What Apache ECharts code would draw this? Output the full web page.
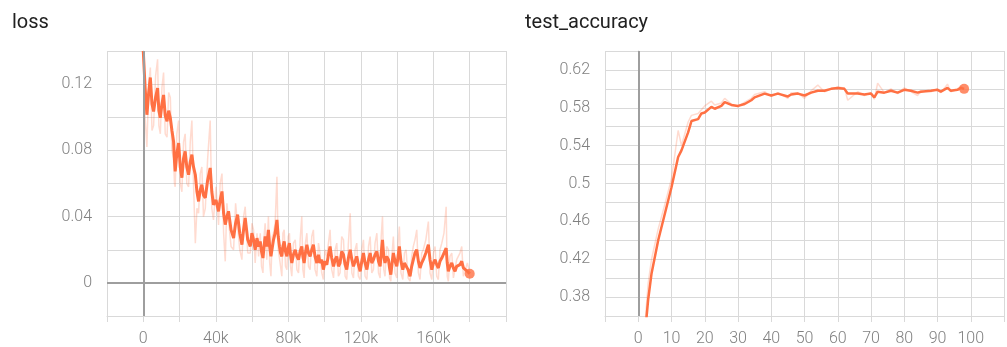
<!DOCTYPE html>
<html>
<head>
<meta charset="utf-8">
<script src="https://cdn.jsdelivr.net/npm/echarts/dist/echarts.min.js"></script>
<style>
  html, body { margin: 0; padding: 0; background: #fff; }
  #chart { width: 1007px; height: 347px; }
</style>
</head>
<body>
<div id="chart"></div>
<script>
// loss: steps in thousands
const lossSteps = [
  0, 1, 2, 3, 3.9, 4.8, 5.7, 6.8, 7.9, 8.6,
  9.4, 10.3, 11.2, 12.1, 13.1, 14, 14.9, 15.8, 16.7, 17.2,
  17.6, 18.5, 19.5, 20.4, 21.3, 22.2, 23.1, 24, 25, 25.9,
  26.8, 27.7, 28.7, 29.6, 30.5, 31.4, 32.3, 33.2, 34.2, 35.5,
  36.9, 37.8, 38.7, 40.1, 41.5, 42.4, 43.4, 44.3, 45.2, 46.1,
  47, 48.4, 49.8, 50.9, 52, 53.2, 54.4, 55.3, 56.2, 57.6,
  59, 59.9, 60.8, 61.7, 62.7, 63.6, 64.5, 65.2, 66, 66.6,
  67.2, 68.1, 69, 69.7, 70.4, 71.1, 71.8, 72.7, 73.7, 74.4,
  75.1, 75.7, 76.4, 77, 77.7, 78.4, 79.2, 79.9, 80.6, 81.2,
  81.9, 82.8, 83.8, 84.7, 85.6, 86.5, 87.4, 88, 88.7, 89.4,
  90.2, 91.1, 92, 92.9, 93.8, 94.7, 95.7, 96.6, 97.5, 98.4,
  99.3, 100.2, 101.2, 102.1, 103, 103.9, 104.9, 105.8, 106.7, 107.6,
  108.5, 109.4, 110.4, 111.3, 112.2, 113.1, 114.1, 115, 115.9, 116.8,
  117.7, 118.6, 119.6, 120.5, 121.4, 122.3, 123.3, 124.2, 125.1, 126,
  126.9, 127.8, 128.8, 129.7, 130.6, 131.2, 131.9, 132.6, 133.3, 134.2,
  135.2, 135.8, 136.5, 137.2, 137.9, 138.8, 139.8, 140.5, 141.2, 142.1,
  143.1, 144, 144.9, 146, 147.1, 148, 148.9, 149.8, 150.8, 151.7,
  152.6, 153.5, 154.4, 155.8, 157.2, 158.1, 159.1, 160, 160.9, 161.8,
  162.7, 163.6, 164.6, 165.8, 167, 167.6, 168.2, 169.1, 170.1, 171,
  171.9, 172.8, 173.7, 174.6, 175.6, 176.5, 177.4, 178.7, 180]
const lossSmooth = [
  0.140, 0.118, 0.1015, 0.115, 0.124, 0.108, 0.1035, 0.112, 0.1176, 0.104,
  0.0997, 0.108, 0.1135, 0.101, 0.0975, 0.104, 0.0997, 0.092, 0.0854, 0.074,
  0.0673, 0.078, 0.0844, 0.070, 0.0635, 0.075, 0.0794, 0.070, 0.0653, 0.073,
  0.0774, 0.070, 0.0653, 0.055, 0.0492, 0.056, 0.0593, 0.053, 0.0513, 0.062,
  0.0694, 0.055, 0.0472, 0.050, 0.0432, 0.050, 0.0552, 0.042, 0.0352, 0.040,
  0.0432, 0.032, 0.0271, 0.036, 0.0412, 0.030, 0.0231, 0.032, 0.0392, 0.026,
  0.022, 0.030, 0.026, 0.020, 0.027, 0.022, 0.025, 0.019, 0.015, 0.022,
  0.028, 0.022, 0.032, 0.022, 0.016, 0.021, 0.026, 0.030, 0.038, 0.028,
  0.022, 0.018, 0.016, 0.022, 0.025, 0.019, 0.016, 0.021, 0.024, 0.017,
  0.012, 0.017, 0.020, 0.016, 0.014, 0.019, 0.022, 0.016, 0.012, 0.018,
  0.023, 0.018, 0.016, 0.020, 0.023, 0.016, 0.012, 0.017, 0.012, 0.014,
  0.008, 0.013, 0.011, 0.017, 0.022, 0.015, 0.010, 0.014, 0.016, 0.010,
  0.012, 0.019, 0.017, 0.011, 0.008, 0.015, 0.020, 0.014, 0.010, 0.013,
  0.016, 0.011, 0.007, 0.013, 0.018, 0.012, 0.008, 0.014, 0.018, 0.012,
  0.014, 0.017, 0.019, 0.013, 0.010, 0.018, 0.026, 0.016, 0.012, 0.016,
  0.014, 0.009, 0.005, 0.012, 0.018, 0.013, 0.010, 0.016, 0.022, 0.013,
  0.008, 0.012, 0.013, 0.008, 0.004, 0.010, 0.014, 0.018, 0.020, 0.013,
  0.009, 0.012, 0.014, 0.018, 0.023, 0.014, 0.008, 0.012, 0.014, 0.011,
  0.009, 0.013, 0.015, 0.018, 0.021, 0.012, 0.007, 0.010, 0.012, 0.009,
  0.007, 0.010, 0.009, 0.011, 0.013, 0.009, 0.010, 0.007, 0.0055]
const lossRaw = [
  0.140, 0.100, 0.082, 0.120, 0.130, 0.092, 0.095, 0.125, 0.135, 0.095,
  0.090, 0.118, 0.127, 0.090, 0.088, 0.115, 0.112, 0.080, 0.075, 0.060,
  0.058, 0.090, 0.098, 0.060, 0.055, 0.085, 0.090, 0.060, 0.058, 0.085,
  0.098, 0.060, 0.024, 0.045, 0.042, 0.066, 0.070, 0.040, 0.045, 0.075,
  0.098, 0.045, 0.038, 0.058, 0.035, 0.060, 0.066, 0.030, 0.013, 0.048,
  0.048, 0.022, 0.020, 0.048, 0.048, 0.020, 0.014, 0.040, 0.046, 0.018,
  0.018, 0.036, 0.032, 0.012, 0.030, 0.016, 0.030, 0.010, 0.006, 0.028,
  0.036, 0.014, 0.040, 0.012, 0.004, 0.028, 0.030, 0.036, 0.064, 0.020,
  0.015, 0.010, 0.004, 0.030, 0.032, 0.010, 0.008, 0.028, 0.030, 0.010,
  0.004, 0.024, 0.026, 0.008, 0.006, 0.026, 0.040, 0.008, 0.003, 0.024,
  0.030, 0.010, 0.008, 0.028, 0.032, 0.008, 0.004, 0.024, 0.018, 0.006,
  0.002, 0.020, 0.016, 0.024, 0.032, 0.008, 0.003, 0.020, 0.024, 0.004,
  0.006, 0.028, 0.026, 0.004, 0.002, 0.024, 0.042, 0.006, 0.003, 0.020,
  0.024, 0.004, 0.002, 0.020, 0.026, 0.004, 0.002, 0.022, 0.028, 0.006,
  0.008, 0.024, 0.030, 0.006, 0.003, 0.028, 0.040, 0.008, 0.004, 0.022,
  0.020, 0.003, 0.001, 0.018, 0.028, 0.006, 0.003, 0.024, 0.034, 0.006,
  0.002, 0.018, 0.020, 0.003, 0.001, 0.016, 0.022, 0.026, 0.032, 0.006,
  0.002, 0.018, 0.020, 0.026, 0.037, 0.006, 0.002, 0.018, 0.022, 0.004,
  0.002, 0.020, 0.024, 0.030, 0.046, 0.004, 0.001, 0.016, 0.018, 0.003,
  0.002, 0.014, 0.014, 0.018, 0.022, 0.004, 0.003, 0.012, 0.006]

// test_accuracy
const accEpochs = [2, 3, 4, 6, 8, 10, 12, 13, 15, 16, 18, 19, 20, 22, 23, 25, 26, 28, 30, 32, 34, 35, 38, 40, 42, 45, 46, 48,
  50, 52, 54, 56, 58, 60, 62, 63, 66, 68, 70, 71, 72, 74, 76, 78, 80, 82, 84, 85, 88, 90, 91, 93, 94, 96, 97, 98]
const accSmooth = [0.340, 0.378, 0.405, 0.440, 0.468, 0.496, 0.528, 0.535, 0.554, 0.566, 0.568, 0.574, 0.575, 0.581, 0.579, 0.582, 0.586, 0.583, 0.582, 0.584, 0.588, 0.591, 0.595, 0.593, 0.595, 0.592, 0.594, 0.595,
  0.593, 0.596, 0.598, 0.598, 0.600, 0.601, 0.600, 0.595, 0.595, 0.594, 0.595, 0.591, 0.597, 0.596, 0.598, 0.596, 0.599, 0.598, 0.596, 0.597, 0.598, 0.599, 0.597, 0.601, 0.598, 0.599, 0.601, 0.600]
const accRaw = [0.350, 0.395, 0.420, 0.452, 0.478, 0.505, 0.556, 0.540, 0.565, 0.572, 0.574, 0.578, 0.582, 0.587, 0.583, 0.585, 0.590, 0.584, 0.581, 0.586, 0.590, 0.594, 0.597, 0.592, 0.596, 0.590, 0.596, 0.596,
  0.590, 0.598, 0.604, 0.597, 0.600, 0.602, 0.601, 0.588, 0.597, 0.593, 0.596, 0.589, 0.606, 0.596, 0.600, 0.595, 0.601, 0.597, 0.593, 0.598, 0.597, 0.600, 0.596, 0.605, 0.597, 0.600, 0.603, 0.600]

const lineColor = '#ff7043'
const paleColor = 'rgba(255, 112, 67, 0.25)'
const gridColor = '#d9d9d9'
const zeroColor = '#9e9e9e'
const labelStyle = { color: '#808080', fontSize: 16, fontFamily: 'Roboto', fontWeight: 300 }

function pairs (xs, ys) {
  return xs.map((x, i) => [x, ys[i]])
}

function isStep (v, base, step) {
  const q = (v - base) / step
  return Math.abs(q - Math.round(q)) < 1e-6
}

const myChart = echarts.init(document.getElementById('chart'), null, { renderer: 'canvas' })

const option = {
  animation: false,
  title: [
    { text: 'loss', left: 7, top: 8, textStyle: { fontFamily: 'Roboto', fontSize: 20, fontWeight: 'normal', color: '#212121' } },
    { text: 'test_accuracy', left: 520, top: 8, textStyle: { fontFamily: 'Roboto', fontSize: 20, fontWeight: 'normal', color: '#212121' } }
  ],
  grid: [
    { left: 107, top: 51, width: 399, height: 266 },
    { left: 605, top: 51, width: 417, height: 266 }
  ],
  xAxis: [
    {
      type: 'value',
      gridIndex: 0,
      min: -20,
      max: 200,
      interval: 20,
      axisLine: { show: true, onZero: false, lineStyle: { color: gridColor } },
      axisTick: { show: true, length: 6, lineStyle: { color: gridColor } },
      splitLine: { show: true, lineStyle: { color: gridColor } },
      axisLabel: {
        ...labelStyle,
        margin: 15,
        formatter: v => (v >= 0 && v <= 180 && v % 40 === 0) ? (v === 0 ? '0' : v + 'k') : ''
      }
    },
    {
      type: 'value',
      gridIndex: 1,
      min: -10,
      max: 110,
      interval: 10,
      axisLine: { show: true, onZero: false, lineStyle: { color: gridColor } },
      axisTick: { show: true, length: 6, lineStyle: { color: gridColor } },
      splitLine: { show: true, lineStyle: { color: gridColor } },
      axisLabel: {
        ...labelStyle,
        margin: 15,
        formatter: v => (v >= 0 && v <= 100) ? String(v) : ''
      }
    }
  ],
  yAxis: [
    {
      type: 'value',
      gridIndex: 0,
      min: -0.02,
      max: 0.14,
      interval: 0.02,
      axisLine: { show: true, lineStyle: { color: gridColor } },
      axisTick: { show: false },
      splitLine: { show: true, lineStyle: { color: gridColor } },
      axisLabel: {
        ...labelStyle,
        margin: 15,
        formatter: v => (v >= 0 && isStep(v, 0, 0.04)) ? (Math.abs(v) < 1e-9 ? '0' : String(parseFloat(v.toFixed(2)))) : ''
      }
    },
    {
      type: 'value',
      gridIndex: 1,
      min: 0.36,
      max: 0.64,
      interval: 0.02,
      axisLine: { show: true, lineStyle: { color: gridColor } },
      axisTick: { show: false },
      splitLine: { show: true, lineStyle: { color: gridColor } },
      axisLabel: {
        ...labelStyle,
        margin: 15,
        formatter: v => (v > 0.37 && v < 0.63 && isStep(v, 0.38, 0.04)) ? String(parseFloat(v.toFixed(2))) : ''
      }
    }
  ],
  series: [
    {
      name: 'loss raw',
      type: 'line',
      xAxisIndex: 0,
      yAxisIndex: 0,
      data: pairs(lossSteps, lossRaw),
      showSymbol: false,
      lineStyle: { color: paleColor, width: 1.5 },
      z: 1,
      markLine: {
        silent: true,
        symbol: 'none',
        label: { show: false },
        lineStyle: { color: zeroColor, width: 2, type: 'solid' },
        data: [{ xAxis: 0 }, { yAxis: 0 }]
      }
    },
    {
      name: 'loss',
      type: 'line',
      xAxisIndex: 0,
      yAxisIndex: 0,
      data: pairs(lossSteps, lossSmooth),
      showSymbol: false,
      lineStyle: { color: lineColor, width: 3 },
      z: 3
    },
    {
      name: 'loss last',
      type: 'scatter',
      xAxisIndex: 0,
      yAxisIndex: 0,
      data: [[lossSteps[lossSteps.length - 1], lossSmooth[lossSmooth.length - 1]]],
      symbolSize: 10,
      itemStyle: { color: lineColor },
      z: 4
    },
    {
      name: 'acc raw',
      type: 'line',
      xAxisIndex: 1,
      yAxisIndex: 1,
      data: pairs(accEpochs, accRaw),
      showSymbol: false,
      lineStyle: { color: paleColor, width: 1.5 },
      z: 1,
      markLine: {
        silent: true,
        symbol: 'none',
        label: { show: false },
        lineStyle: { color: zeroColor, width: 2, type: 'solid' },
        data: [{ xAxis: 0 }]
      }
    },
    {
      name: 'test_accuracy',
      type: 'line',
      xAxisIndex: 1,
      yAxisIndex: 1,
      data: pairs(accEpochs, accSmooth),
      showSymbol: false,
      lineStyle: { color: lineColor, width: 2.5 },
      z: 3
    },
    {
      name: 'acc last',
      type: 'scatter',
      xAxisIndex: 1,
      yAxisIndex: 1,
      data: [[accEpochs[accEpochs.length - 1], accSmooth[accSmooth.length - 1]]],
      symbolSize: 10,
      itemStyle: { color: lineColor },
      z: 4
    }
  ]
}

myChart.setOption(option)
</script>
</body>
</html>
